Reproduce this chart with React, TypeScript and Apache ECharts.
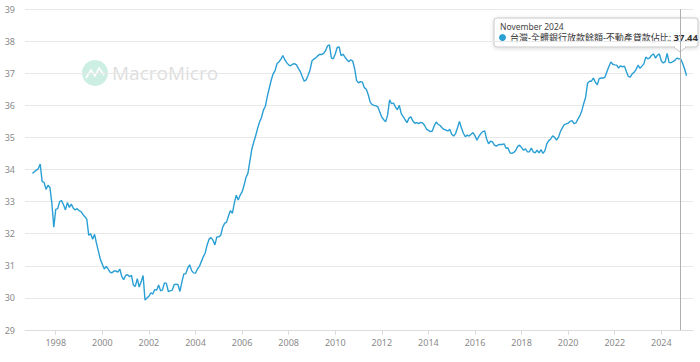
import React, { useEffect, useRef } from "react";
import * as echarts from "echarts";

// Monthly values, Jan 1997 .. Feb 2025 (%)
const y1997 = [33.88, 33.93, 33.98, 34.02, 34.17, 33.62, 33.6, 33.38, 33.51, 33.44, 32.95, 32.2];
const y1998 = [32.76, 32.78, 33.0, 33.03, 32.9, 32.74, 32.97, 32.82, 32.92, 32.8, 32.74, 32.78];
const y1999 = [32.72, 32.69, 32.6, 32.53, 32.45, 31.95, 32.0, 31.83, 31.98, 31.7, 31.45, 31.2];
const y2000 = [31.05, 30.9, 30.98, 30.9, 30.8, 30.78, 30.84, 30.84, 30.8, 30.9, 30.67, 30.57];
const y2001 = [30.7, 30.72, 30.66, 30.7, 30.4, 30.36, 30.6, 30.34, 30.5, 30.7, 29.93, 30.0];
const y2002 = [30.05, 30.16, 30.12, 30.26, 30.24, 30.4, 30.22, 30.25, 30.47, 30.45, 30.2, 30.22];
const y2003 = [30.24, 30.41, 30.43, 30.41, 30.2, 30.5, 30.75, 30.75, 30.93, 31.03, 30.85, 30.78];
const y2004 = [30.77, 30.9, 30.98, 31.13, 31.28, 31.4, 31.65, 31.83, 31.88, 31.8, 31.65, 31.9];
const y2005 = [31.9, 31.95, 32.2, 32.32, 32.36, 32.55, 32.72, 32.63, 32.95, 33.2, 33.05, 33.2];
const y2006 = [33.3, 33.5, 33.75, 33.88, 34.25, 34.63, 34.85, 35.05, 35.28, 35.48, 35.62, 35.85];
const y2007 = [35.97, 36.28, 36.53, 36.78, 36.98, 37.08, 37.3, 37.35, 37.44, 37.55, 37.42, 37.33];
const y2008 = [37.26, 37.23, 37.28, 37.3, 37.26, 37.15, 37.05, 36.9, 36.75, 36.79, 36.93, 37.1];
const y2009 = [37.38, 37.44, 37.48, 37.54, 37.59, 37.58, 37.62, 37.7, 37.85, 37.88, 37.48, 37.45];
const y2010 = [37.6, 37.8, 37.82, 37.55, 37.59, 37.5, 37.42, 37.36, 37.42, 37.38, 37.14, 36.77];
const y2011 = [36.7, 36.74, 36.72, 36.55, 36.5, 36.33, 36.1, 36.02, 36.0, 35.98, 35.95, 35.78];
const y2012 = [35.63, 35.55, 35.49, 35.7, 36.17, 36.05, 36.07, 35.95, 35.86, 36.0, 35.74, 35.65];
const y2013 = [35.55, 35.46, 35.6, 35.64, 35.51, 35.44, 35.46, 35.43, 35.47, 35.45, 35.38, 35.26];
const y2014 = [35.22, 35.18, 35.2, 35.36, 35.48, 35.41, 35.37, 35.3, 35.25, 35.23, 35.2, 35.25];
const y2015 = [35.1, 35.04, 35.12, 35.3, 35.5, 35.3, 35.13, 35.02, 35.07, 35.04, 35.1, 35.15];
const y2016 = [35.05, 34.91, 35.03, 35.12, 35.18, 35.2, 34.95, 34.8, 34.88, 34.86, 34.76, 34.73];
const y2017 = [34.77, 34.78, 34.78, 34.8, 34.66, 34.67, 34.52, 34.5, 34.53, 34.6, 34.72, 34.76];
const y2018 = [34.68, 34.6, 34.64, 34.55, 34.55, 34.67, 34.55, 34.52, 34.6, 34.52, 34.62, 34.5];
const y2019 = [34.58, 34.8, 34.9, 34.95, 35.05, 35.0, 34.92, 35.0, 35.18, 35.3, 35.4, 35.42];
const y2020 = [35.44, 35.5, 35.52, 35.43, 35.45, 35.57, 35.67, 35.82, 36.05, 36.25, 36.69, 36.75];
const y2021 = [36.75, 36.85, 36.72, 36.64, 36.83, 36.85, 36.85, 36.88, 37.05, 37.21, 37.35, 37.28];
const y2022 = [37.26, 37.25, 37.16, 37.23, 37.2, 37.22, 37.05, 36.9, 36.88, 36.98, 37.03, 37.12];
const y2023 = [37.25, 37.15, 37.22, 37.29, 37.5, 37.45, 37.48, 37.56, 37.6, 37.47, 37.56, 37.6];
const y2024 = [37.38, 37.32, 37.36, 37.62, 37.33, 37.33, 37.36, 37.4, 37.47, 37.45, 37.44, 37.3];
const y2025 = [37.13, 36.92];

const START_YEAR = 1997;
const yearly = [
  y1997, y1998, y1999, y2000, y2001, y2002, y2003, y2004, y2005, y2006,
  y2007, y2008, y2009, y2010, y2011, y2012, y2013, y2014, y2015, y2016,
  y2017, y2018, y2019, y2020, y2021, y2022, y2023, y2024, y2025,
];
const values: number[] = yearly.flat();
// x position in decimal years (first day of each month)
const months: number[] = values.map((_, i) => START_YEAR + i / 12);

const SERIES_NAME = "台灣-全體銀行放款餘額-不動產貸款佔比";
const HIGHLIGHT_INDEX = (2024 - START_YEAR) * 12 + 10; // November 2024
const MONTH_NAMES = ["January", "February", "March", "April", "May", "June", "July", "August", "September", "October", "November", "December"];

const xTickYears = [1998, 2000, 2002, 2004, 2006, 2008, 2010, 2012, 2014, 2016, 2018, 2020, 2022, 2024];
const X_MIN = 1996.68;
const X_MAX = 2025.36;
const Y_MIN = 29;
const Y_MAX = 39;

const LINE_COLOR = "#2a9fd4";

export default function App() {
  const ref = useRef<HTMLDivElement>(null);
  useEffect(() => {
    if (!ref.current) return;
    const chart = echarts.init(ref.current, undefined, { renderer: "svg" });
    const hi = HIGHLIGHT_INDEX;
    const title = `${MONTH_NAMES[hi % 12]} ${START_YEAR + Math.floor(hi / 12)}`;
    const hv = values[hi].toFixed(2);
    const font = "'Noto Sans', 'Noto Sans CJK TC', sans-serif";
    chart.setOption({
      animation: false,
      grid: { left: 25, right: 7, top: 9, bottom: 32 },
      xAxis: {
        type: "value",
        min: X_MIN,
        max: X_MAX,
        axisLine: { show: true, onZero: false, lineStyle: { color: "#dcdcdc" } },
        axisTick: { show: true, customValues: xTickYears, length: 5, lineStyle: { color: "#dcdcdc" } },
        axisLabel: {
          customValues: xTickYears,
          formatter: (v: number) => String(Math.round(v)),
          color: "#8a8a8a",
          fontSize: 9,
          fontFamily: font,
          margin: 8,
        },
        splitLine: { show: false },
      },
      yAxis: {
        type: "value",
        min: Y_MIN,
        max: Y_MAX,
        interval: 1,
        axisLine: { show: false },
        axisTick: { show: false },
        axisLabel: { color: "#8a8a8a", fontSize: 9, fontFamily: font, margin: 10 },
        splitLine: { lineStyle: { color: "#e8e8e8" } },
      },
      series: [
        {
          name: SERIES_NAME,
          type: "line",
          data: months.map((m, i) => [m, values[i]]),
          showSymbol: false,
          lineStyle: { color: LINE_COLOR, width: 1.4 },
          z: 3,
          markLine: {
            symbol: "none",
            silent: true,
            label: { show: false },
            lineStyle: { color: "#b0b0b0", width: 1, type: "solid" },
            data: [{ xAxis: months[hi] }],
          },
        },
      ],
      graphic: [
        {
          type: "group",
          z: 0,
          silent: true,
          children: [
            { type: "circle", shape: { cx: 95, cy: 73, r: 13 }, style: { fill: "#cdeee3" } },
            {
              type: "polyline",
              shape: { points: [[86, 78], [91, 70], [95, 76], [99, 68], [104, 75]] },
              style: { stroke: "#ffffff", lineWidth: 1.6, fill: null },
            },
            {
              type: "text",
              x: 112,
              y: 73,
              style: {
                text: "MacroMicro",
                fontSize: 19,
                fontFamily: "'Open Sans', sans-serif",
                fill: "#dedede",
                verticalAlign: "middle",
              },
            },
          ],
        },
        {
          type: "group",
          z: 100,
          silent: true,
          children: [
            {
              type: "rect",
              shape: { x: 494, y: 18, width: 204, height: 29, r: 3 },
              style: { fill: "#ffffff", stroke: "#c8c8c8", lineWidth: 1, shadowBlur: 4, shadowColor: "rgba(0,0,0,0.15)", shadowOffsetY: 1 },
            },
            {
              type: "polygon",
              shape: { points: [[674, 47], [686, 47], [680, 52]] },
              style: { fill: "#ffffff", stroke: "#c8c8c8", lineWidth: 1 },
            },
            { type: "line", shape: { x1: 675, y1: 47, x2: 685, y2: 47 }, style: { stroke: "#ffffff", lineWidth: 2 } },
            {
              type: "text",
              x: 500,
              y: 26,
              style: { text: title, fontSize: 8.5, fontFamily: font, fill: "#444", verticalAlign: "middle" },
            },
            { type: "circle", shape: { cx: 502.5, cy: 37.5, r: 3.5 }, style: { fill: LINE_COLOR } },
            {
              type: "text",
              x: 510,
              y: 37.5,
              style: {
                text: `{a|${SERIES_NAME}: }{b|${hv}}`,
                verticalAlign: "middle",
                rich: {
                  a: { fontSize: 9, fontFamily: font, fill: "#333" },
                  b: { fontSize: 9.5, fontFamily: font, fill: "#333", fontWeight: "bold" },
                },
              },
            },
          ],
        },
      ],
    });
    return () => chart.dispose();
  }, []);
  return (
    <div
      ref={ref}
      style={{ position: "fixed", left: 0, top: 0, width: 700, height: 362, background: "#ffffff" }}
    />
  );
}
